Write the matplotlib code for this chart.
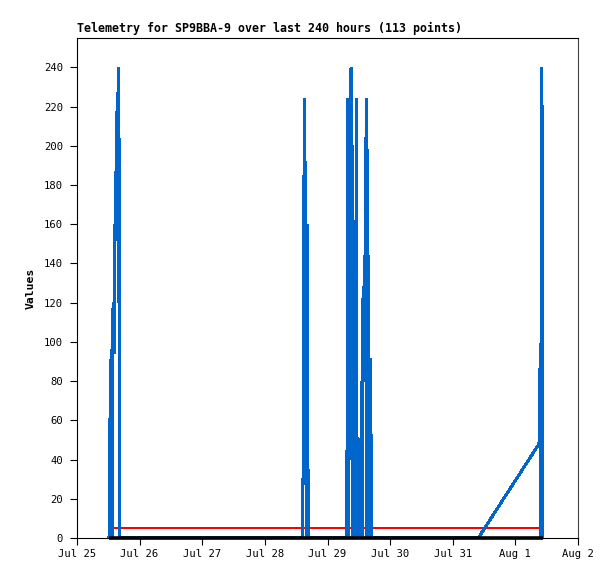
import matplotlib
matplotlib.use("Agg")
import matplotlib.pyplot as plt
import matplotlib.dates as mdates
import numpy as np
from datetime import datetime, timedelta

# ---- data (hours since Jul 25 00:00) ----
start = datetime(2024, 7, 25)
tele_hours = [
    12.26, 12.42, 12.72, 13.11, 13.41, 13.60, 13.91, 14.18, 14.37, 14.75,
    15.14, 15.44, 15.83, 16.06, 16.29,
    50.0,
    86.57, 86.80, 87.30, 87.49, 87.84, 88.26, 88.60,
    96.0,
    103.40, 103.59, 103.78, 104.05, 104.31, 104.62, 105.01, 105.39, 105.58,
    105.85, 106.15, 106.46, 106.73, 107.00, 107.23, 107.42, 107.61, 107.88,
    108.26, 108.65, 108.95, 109.22, 109.41, 109.72, 109.91, 110.18, 110.37,
    110.60, 110.87, 111.14, 111.33, 111.52, 111.71, 111.90, 112.29, 112.59,
    112.78,
    130.0, 153.79,
    177.05, 177.28, 177.55, 177.74, 177.94, 178.20, 178.39,
]
tele_values = [
    0, 24, 72, 96, 0, 112, 120, 94, 146, 173,
    200, 227, 120, 240, 0,
    0,
    0, 160, 224, 144, 0, 160, 0,
    0,
    0, 112, 224, 0, 224, 40, 240, 200, 0,
    120, 40, 160, 0, 224, 64, 32, 0, 48,
    16, 0, 80, 0, 112, 128, 96, 144, 80,
    176, 224, 0, 198, 96, 144, 0, 91, 91,
    0,
    0, 0,
    48, 72, 96, 0, 240, 224, 0,
]
red_hours = [12.6, 177.4]
red_values = [5, 5]
black_hours = [12.45, 178.6]
black_values = [0, 0]

title = "Telemetry for SP9BBA-9 over last 240 hours (113 points)"
ylabel = "Values"
yticks = list(range(0, 241, 20))

def to_dt(hs):
    return [start + timedelta(hours=h) for h in hs]

plt.rcParams['font.family'] = ['DejaVu Sans Mono']

fig = plt.figure(figsize=(6.15, 5.79), dpi=100)
ax = fig.add_axes([77/615, 41/579, 501/615, 500/579])

ax.plot(to_dt(red_hours), red_values, color='#ff0000', lw=1.44, zorder=2,
        solid_capstyle='butt')
ax.plot(to_dt(tele_hours), tele_values, color='#0066cc', lw=1.45, zorder=3,
        antialiased=False, solid_joinstyle='miter')
ax.plot(to_dt(black_hours), black_values, color='#000000', lw=2.6, zorder=5,
        solid_capstyle='butt', clip_on=False)

ax.set_xlim(start, start + timedelta(days=8))
ax.set_ylim(0, 255)
ax.set_yticks(yticks)
ax.xaxis.set_major_locator(mdates.DayLocator())
ax.xaxis.set_major_formatter(mdates.DateFormatter('%b %-d'))

ax.tick_params(direction='out', length=5, width=0.8, labelsize=7.6, pad=3)
ax.tick_params(axis='y', pad=5)
for s in ['left', 'bottom', 'top']:
    ax.spines[s].set_linewidth(0.8)
    ax.spines[s].set_color('black')
ax.spines['right'].set_linewidth(0.8)
ax.spines['right'].set_color('#444444')

ax.set_title(title, loc='left', fontsize=8.4, fontweight='bold', pad=4)
ax.set_ylabel(ylabel, fontsize=8.2, fontweight='bold', labelpad=6)

fig.savefig('out.png', dpi=100)
